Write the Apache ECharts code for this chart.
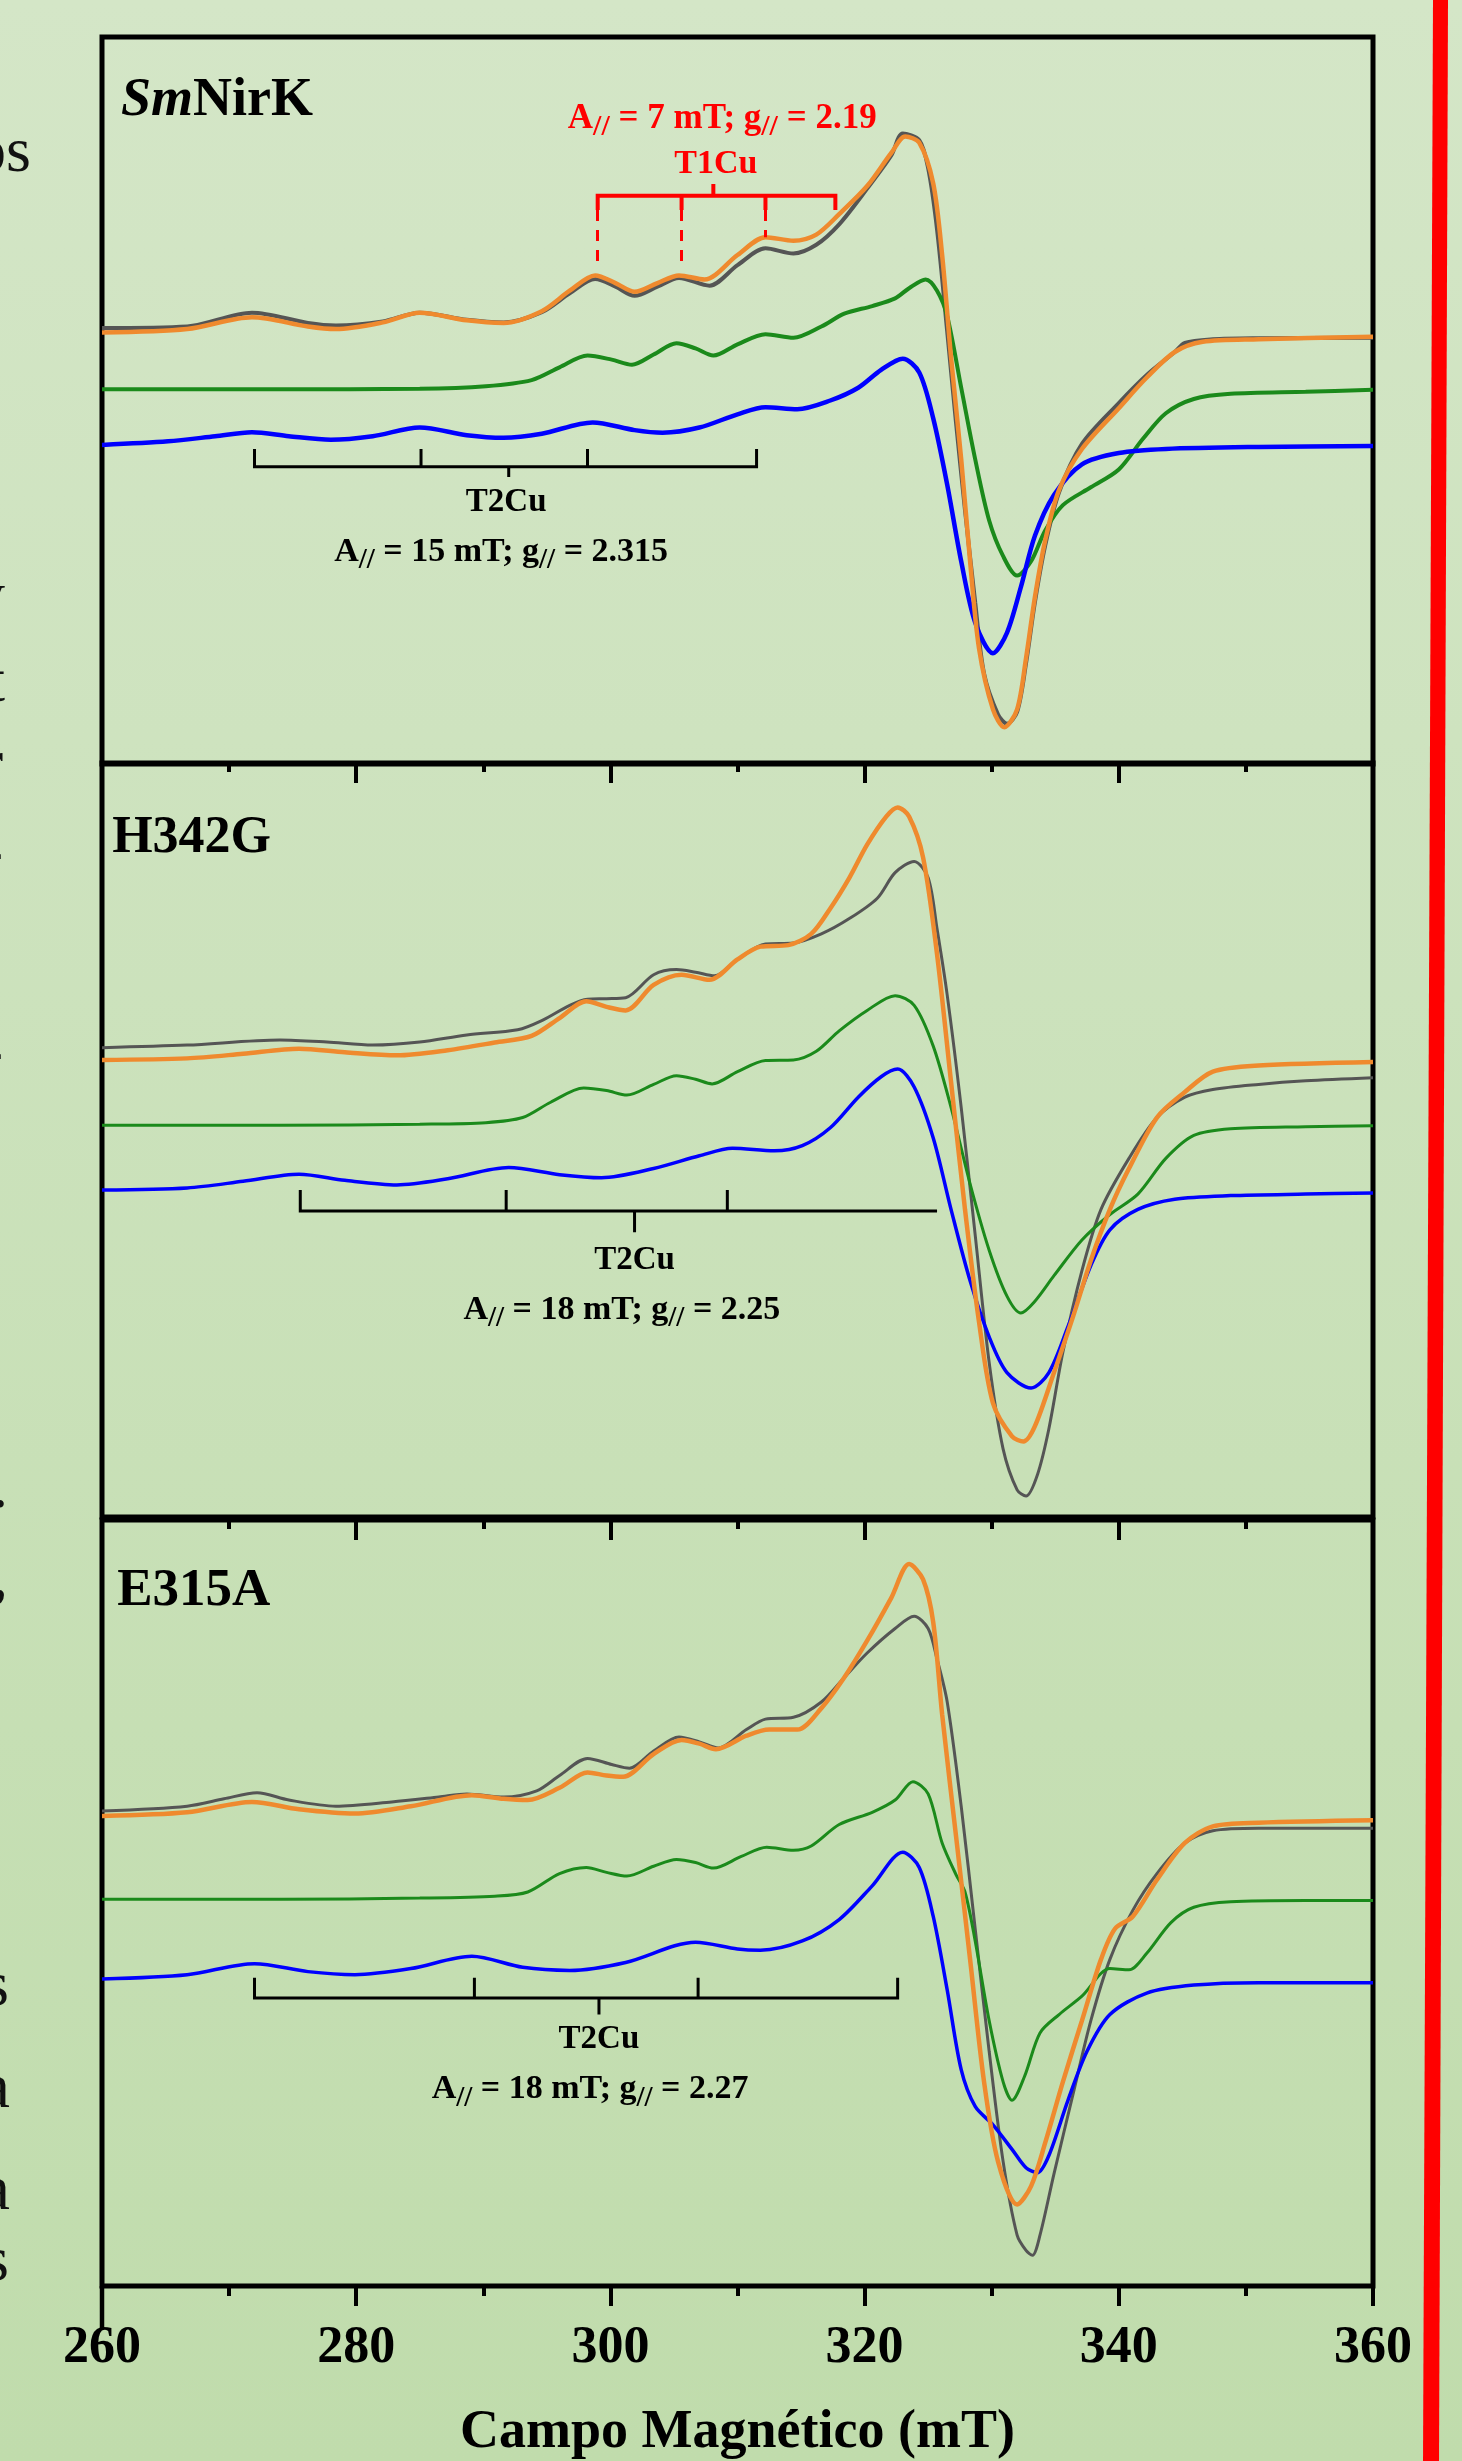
<!DOCTYPE html>
<html>
<head>
<meta charset="utf-8">
<title>EPR SmNirK</title>
<script src="https://cdn.jsdelivr.net/npm/echarts@6/dist/echarts.min.js"></script>
<style>
  html, body { margin: 0; padding: 0; background: #cfe3c0; }
  #chart { width: 1462px; height: 2461px; }
</style>
</head>
<body>
<div id="chart"></div>
<script>
// campo magnético (mT) ticks
const fieldTicks = [260, 280, 300, 320, 340, 360];

// [mT, intensidad (u.a.)] -- SmNirK
const smnirkExp = [[260.0,854],[266.7,857],[271.8,884],[276.2,864],[278.4,859],[282.1,867],[285.0,884],[288.7,870],[291.6,865],[294.6,885],[296.8,922],[298.8,950],[300.4,935],[301.9,917],[303.7,935],[305.4,952],[307.8,937],[310.0,977],[312.2,1010],[314.4,1000],[316.2,1017],[318.0,1057],[320.2,1127],[322.1,1192],[323.0,1235],[324.3,1222],[325.0,1167],[325.7,1047],[326.5,847],[327.2,667],[327.9,497],[328.7,317],[329.4,177],[330.5,97],[331.2,79],[332.0,102],[332.7,197],[333.4,317],[334.2,427],[335.3,532],[337.1,627],[340.0,707],[342.2,762],[344.4,807],[345.2,825],[347.4,832],[351.0,834],[360.0,835]];
const smnirkSim = [[260.0,845],[266.7,852],[271.8,875],[276.2,857],[278.4,852],[282.1,865],[285.0,884],[288.7,869],[291.6,864],[294.6,887],[296.8,927],[298.8,957],[300.4,942],[301.9,925],[303.7,942],[305.4,957],[307.4,949],[310.0,997],[312.2,1032],[314.4,1025],[316.2,1037],[318.0,1077],[320.2,1132],[322.1,1197],[323.2,1229],[324.3,1217],[325.4,1137],[326.1,997],[326.8,797],[327.6,597],[328.3,397],[329.0,227],[330.1,107],[331.0,72],[332.0,107],[332.7,207],[333.4,327],[334.2,437],[335.3,537],[337.1,617],[340.0,697],[342.2,757],[344.4,807],[346.6,827],[351.0,832],[360.0,837]];
const smnirkT1 = [[260.0,734],[274.0,734],[285.0,735],[290.2,740],[293.8,752],[296.0,777],[298.2,800],[300.1,792],[301.7,782],[303.4,802],[305.2,824],[306.7,814],[308.1,800],[310.0,822],[312.2,842],[314.4,835],[316.6,857],[318.4,882],[320.6,897],[322.4,912],[323.5,932],[324.8,949],[325.7,927],[326.5,877],[327.6,737],[328.7,597],[329.8,477],[330.9,407],[332.0,369],[333.1,397],[334.2,457],[335.6,507],[337.8,542],[340.0,577],[341.9,637],[343.7,687],[345.9,715],[348.8,725],[354.7,729],[360.0,733]];
const smnirkT2 = [[260.0,625],[265.2,632],[268.9,642],[271.8,650],[274.7,642],[278.0,635],[281.3,642],[285.0,659],[288.7,644],[291.6,639],[294.6,647],[298.6,669],[301.9,654],[304.1,649],[307.0,659],[310.0,685],[312.2,699],[314.7,695],[317.3,712],[319.5,737],[321.3,772],[323.0,794],[324.3,767],[325.4,677],[326.5,547],[327.6,397],[328.7,277],[330.1,217],[331.2,257],[332.3,347],[333.4,447],[334.9,527],[337.1,587],[340.0,609],[343.7,617],[351.0,621],[360.0,623]];

// H342G
const h342gExp = [[260.0,920],[266.7,925],[274.0,935],[277.7,931],[281.3,925],[285.0,931],[288.7,945],[292.7,955],[294.6,973],[296.8,1003],[298.2,1015],[299.7,1016],[301.2,1018],[303.4,1063],[305.2,1073],[306.7,1068],[308.2,1061],[310.0,1093],[312.2,1123],[314.4,1125],[316.6,1143],[318.8,1173],[321.0,1213],[322.4,1263],[323.9,1285],[325.0,1253],[325.7,1153],[326.5,1023],[327.6,803],[328.7,553],[329.8,303],[330.9,133],[332.0,53],[332.7,41],[333.6,83],[334.5,173],[335.6,323],[337.1,483],[338.6,603],[340.8,703],[343.0,783],[345.2,823],[347.4,838],[351.0,848],[354.7,855],[360.0,861]];
const h342gSim = [[260.0,896],[266.7,899],[271.1,908],[275.5,918],[279.1,911],[283.2,905],[287.2,915],[290.9,930],[293.8,943],[296.0,978],[298.1,1011],[299.7,1000],[301.2,993],[303.4,1043],[305.6,1063],[307.8,1053],[310.0,1093],[311.8,1118],[314.0,1121],[315.8,1143],[317.3,1193],[318.8,1253],[320.2,1318],[321.7,1373],[322.6,1391],[323.5,1373],[324.6,1293],[325.7,1103],[326.8,853],[327.9,603],[329.0,383],[330.1,223],[331.6,158],[332.5,148],[333.4,178],[334.9,283],[336.4,393],[337.8,503],[339.3,603],[340.8,683],[343.0,783],[345.2,833],[347.4,873],[351.0,885],[360.0,892]];
const h342gT1 = [[260.0,768],[274.0,768],[285.0,770],[290.2,773],[293.1,783],[295.3,813],[297.9,841],[299.7,836],[301.3,827],[303.4,848],[305.2,865],[306.7,858],[308.0,849],[310.0,873],[312.2,895],[314.4,896],[316.2,913],[318.0,953],[320.2,993],[322.4,1022],[323.9,1003],[325.4,923],[326.8,803],[328.3,653],[329.8,523],[331.2,433],[332.3,400],[333.4,423],[334.9,473],[337.1,543],[339.3,593],[341.5,633],[343.7,703],[345.9,748],[348.8,761],[354.7,765],[360.0,767]];
const h342gT2 = [[260.0,641],[266.7,645],[271.1,658],[275.5,672],[279.1,660],[283.2,651],[287.2,663],[292.0,685],[296.0,671],[299.3,665],[303.4,683],[307.0,708],[309.6,723],[312.9,718],[315.1,728],[317.3,763],[319.5,823],[321.3,863],[322.6,878],[323.9,843],[325.4,743],[326.8,603],[328.3,463],[329.8,353],[331.2,283],[333.1,253],[334.5,283],[336.0,373],[337.8,493],[339.3,563],[341.5,603],[344.4,623],[348.8,630],[354.7,633],[360.0,635]];

// E315A
const e315aExp = [[260.0,775],[266.7,783],[269.6,795],[272.2,805],[274.7,793],[278.4,783],[282.8,790],[286.5,798],[288.7,803],[291.6,798],[294.2,808],[296.0,833],[298.2,861],[300.1,851],[301.5,845],[303.4,873],[305.4,896],[307.0,888],[308.5,878],[310.7,908],[312.2,925],[314.4,928],[316.6,953],[318.4,993],[320.2,1033],[322.4,1073],[323.9,1093],[325.0,1073],[325.7,1023],[326.5,953],[327.6,783],[328.7,583],[329.8,383],[330.9,203],[332.0,83],[332.7,58],[333.2,50],[333.8,83],[334.9,183],[336.4,313],[337.8,433],[339.3,533],[341.1,613],[343.0,673],[345.2,723],[347.4,743],[351.0,747],[360.0,747]];
const e315aSim = [[260.0,767],[266.7,773],[271.8,790],[275.5,778],[279.9,771],[284.3,783],[289.1,801],[291.6,795],[293.5,793],[296.0,813],[298.2,838],[299.7,833],[301.0,831],[303.4,868],[305.6,891],[307.0,885],[308.3,876],[310.7,898],[312.5,908],[314.7,908],[316.6,943],[318.4,993],[320.2,1053],[322.1,1123],[323.5,1178],[324.6,1153],[325.4,1083],[326.1,933],[327.2,733],[328.3,533],[329.4,333],[330.5,203],[332.0,133],[333.1,163],[334.2,233],[335.6,333],[337.1,433],[338.6,533],[339.7,583],[341.1,603],[343.0,663],[345.2,723],[347.4,750],[351.0,756],[360.0,760]];
const e315aT1 = [[260.0,631],[274.0,631],[285.0,633],[290.9,636],[293.5,643],[296.0,673],[298.1,683],[299.7,675],[301.3,669],[303.4,685],[305.2,696],[306.7,691],[308.1,682],[310.3,701],[312.3,716],[314.4,711],[315.8,718],[318.0,753],[320.6,773],[322.4,793],[323.8,823],[325.0,803],[326.1,723],[327.2,671],[327.9,643],[328.7,563],[329.8,433],[330.9,333],[331.6,303],[332.6,343],[333.8,413],[335.3,443],[337.1,473],[339.3,518],[340.8,516],[342.2,543],[344.1,593],[345.9,618],[348.8,627],[354.7,629],[360.0,629]];
const e315aT2 = [[260.0,501],[266.7,508],[272.0,526],[276.2,513],[279.9,508],[284.3,518],[289.1,538],[293.1,520],[296.8,515],[301.2,528],[306.7,561],[310.0,550],[311.8,548],[315.1,563],[318.0,598],[320.6,653],[323.0,708],[324.3,683],[325.4,603],[326.5,483],[327.6,353],[328.7,293],[330.1,263],[331.6,223],[332.7,193],[333.6,185],[334.5,213],[336.0,303],[337.5,383],[339.3,443],[342.2,478],[345.9,491],[351.0,495],[360.0,495]];

// hyperfine line positions (mT)
const smT1Lines = [299.0, 305.6, 312.2, 317.7];
const smT2Lines = [272.0, 285.1, 298.2, 311.5];
const h342gT2Lines = [275.6, 291.8, 309.2, 325.7];
const e315aT2Lines = [272.0, 289.3, 306.9, 322.6];

const SERIF = '"Liberation Serif", "Times New Roman", serif';
const C_EXP = '#555555', C_SIM = '#ef8a2e', C_T1 = '#1b8a1b', C_T2 = '#0000ff';
const yMax = [1424, 1478, 1250];
const xIdx = [0, 1, 3];

const chart = echarts.init(document.getElementById('chart'));

function curve(g, data, color, width, z) {
  return { type: 'line', xAxisIndex: xIdx[g], yAxisIndex: g, data: data, smooth: 0.3,
    symbol: 'none', silent: true, z: z, lineStyle: { color: color, width: width } };
}

function bracketPath(lines, yLine, yTick, cx, yCenter, noTick) {
  const marks = lines.map((x, i) => ({ x: x, y: noTick && noTick[i] ? null : yTick }))
    .concat([{ x: cx, y: yCenter }]).sort((a, b) => a.x - b.x);
  const pts = [];
  marks.forEach(m => {
    pts.push([m.x, yLine]);
    if (m.y !== null) { pts.push([m.x, m.y]); pts.push([m.x, yLine]); }
  });
  return pts;
}

function bracket(g, pts, color, width, extra) {
  return Object.assign({ type: 'line', xAxisIndex: xIdx[g], yAxisIndex: g, data: pts, smooth: false,
    symbol: 'none', silent: true, z: 6, lineStyle: { color: color, width: width, cap: 'butt', join: 'miter' } }, extra || {});
}

const grids = [
  { top: 37, height: 727 },
  { top: 763, height: 754 },
  { top: 1520, height: 766 }
].map(p => ({ left: 102, right: 89, top: p.top, height: p.height, show: true,
  borderColor: '#000', borderWidth: 5, backgroundColor: 'transparent', outerBoundsMode: 'none' }));

const tickStyle = { color: '#000', width: 4 };
function topAxis(g) {
  return { type: 'value', gridIndex: g, position: 'top', min: fieldTicks[0], max: fieldTicks[fieldTicks.length - 1], interval: 20,
    axisLine: { show: false, onZero: false }, splitLine: { show: false }, axisLabel: { show: false },
    axisTick: { show: true, inside: true, length: 20, lineStyle: tickStyle },
    minorTick: { show: true, splitNumber: 2, length: 9, lineStyle: tickStyle } };
}

const option = {
  animation: false,
  grid: grids,
  xAxis: [
    { type: 'value', gridIndex: 0, min: 260, max: 360, interval: 20, axisLine: { show: false, onZero: false },
      axisTick: { show: false }, axisLabel: { show: false }, splitLine: { show: false } },
    topAxis(1),
    topAxis(2),
    { type: 'value', gridIndex: 2, position: 'bottom', min: fieldTicks[0], max: fieldTicks[fieldTicks.length - 1], interval: 20,
      axisLine: { show: false, onZero: false }, splitLine: { show: false },
      axisTick: { show: true, inside: false, length: 20, lineStyle: tickStyle },
      minorTick: { show: true, splitNumber: 2, length: 10, lineStyle: tickStyle },
      axisLabel: { show: true, margin: 63, verticalAlign: 'middle', fontFamily: SERIF, fontWeight: 'bold', fontSize: 52, color: '#000' },
      name: 'Campo Magnético (mT)', nameLocation: 'middle', nameGap: 147,
      nameTextStyle: { fontFamily: SERIF, fontWeight: 'bold', fontSize: 54, color: '#000', verticalAlign: 'middle' } }
  ],
  yAxis: yMax.map((m, g) => ({ type: 'value', gridIndex: g, min: 0, max: m, show: false })),
  series: [
    curve(0, smnirkExp, C_EXP, 4, 2), curve(0, smnirkSim, C_SIM, 4.5, 3),
    curve(0, smnirkT1, C_T1, 4, 2), curve(0, smnirkT2, C_T2, 4.5, 2),
    curve(1, h342gExp, C_EXP, 3, 2), curve(1, h342gSim, C_SIM, 4.5, 3),
    curve(1, h342gT1, C_T1, 3, 2), curve(1, h342gT2, C_T2, 3.5, 2),
    curve(2, e315aExp, C_EXP, 3, 2), curve(2, e315aSim, C_SIM, 4.5, 3),
    curve(2, e315aT1, C_T1, 3, 2), curve(2, e315aT2, C_T2, 3.5, 2),
    bracket(0, bracketPath(smT1Lines, 1113, 1085, 308.1, 1136), '#ff0000', 4, {
      markLine: { silent: true, symbol: 'none', label: { show: false },
        lineStyle: { color: '#ff0000', width: 3, type: [11, 9] },
        data: [
          [{ coord: [smT1Lines[0], 1085] }, { coord: [smT1Lines[0], 968] }],
          [{ coord: [smT1Lines[1], 1085] }, { coord: [smT1Lines[1], 968] }],
          [{ coord: [smT1Lines[2], 1085] }, { coord: [smT1Lines[2], 1032] }]
        ] } }),
    bracket(0, bracketPath(smT2Lines, 582, 617, 292.0, 562), '#000', 3),
    bracket(1, bracketPath(h342gT2Lines, 600, 641, 301.9, 558, [false, false, false, true]), '#000', 3),
    bracket(2, bracketPath(e315aT2Lines, 470, 503, 299.1, 443), '#000', 3)
  ]
};

chart.setOption(option);

// annotations placed through the axes
function px(g, at) { return chart.convertToPixel({ gridIndex: g }, at); }

function plain(g, at, text, size, color, align) {
  const p = px(g, at);
  return { type: 'text', x: p[0], y: p[1], silent: true, z: 10,
    style: { text: text, fontFamily: SERIF, fontWeight: 'bold', fontSize: size, fill: color || '#000',
      align: align || 'center', verticalAlign: 'middle' } };
}

// "A// = ...; g// = ..." with the // lowered to sit across the baseline
function withSub(g, at, parts, size, color) {
  const lh = Math.round(size * 1.25);
  const sub = Math.round(size * 0.85);
  const pad = Math.max(0, Math.round(lh / 2 + 0.34 * size - sub / 2 - 8));
  const p = px(g, at);
  const base = { fontFamily: SERIF, fontWeight: 'bold', fill: color, color: color };
  return { type: 'text', x: p[0], y: p[1] - lh / 2, silent: true, z: 10,
    style: { text: '{a|A}{s|//}{a| = ' + parts[0] + '; g}{s|//}{a| = ' + parts[1] + '}',
      align: 'center', verticalAlign: 'top',
      rich: {
        a: Object.assign({ fontSize: size, lineHeight: lh, verticalAlign: 'top' }, base),
        s: Object.assign({ fontSize: sub, lineHeight: sub, padding: [pad, 0, 0, 0], verticalAlign: 'top' }, base)
      } } };
}

const lowerLeft = px(2, [260, 0]);
const graphics = [
  { type: 'rect', z: -100, silent: true, shape: { x: 0, y: 0, width: 1462, height: 2461 },
    style: { fill: new echarts.graphic.LinearGradient(0, 0, 0, 1, [
      { offset: 0, color: '#d4e6c7' }, { offset: 1, color: '#c0dcac' }]) } },
  { type: 'polygon', z: 1, silent: true, shape: { points: [[1433, 0], [1448, 0], [1439, 2461], [1423, 2461]] },
    style: { fill: '#ff0000' } },
  { type: 'line', z: 5, silent: true, shape: { x1: lowerLeft[0], y1: lowerLeft[1], x2: lowerLeft[0], y2: lowerLeft[1] + 44 },
    style: { stroke: '#000', lineWidth: 4.5 } },
  {
    type: 'text', silent: true, z: 10,
    x: px(0, [261.5, 1299])[0], y: px(0, [261.5, 1299])[1],
    style: { text: '{i|Sm}{b|NirK}', align: 'left', verticalAlign: 'middle',
      rich: { i: { fontFamily: SERIF, fontWeight: 'bold', fontStyle: 'italic', fontSize: 54, fill: '#000' },
              b: { fontFamily: SERIF, fontWeight: 'bold', fontSize: 54, fill: '#000' } } }
  },
  withSub(0, [308.8, 1255], ['7 mT', '2.19'], 35, '#ff0000'),
  plain(0, [308.3, 1175], 'T1Cu', 34, '#ff0000'),
  plain(0, [291.8, 512], 'T2Cu', 33),
  withSub(0, [291.4, 406], ['15 mT', '2.315'], 34, '#000'),
  plain(1, [260.8, 1330], 'H342G', 52, '#000', 'left'),
  plain(1, [301.9, 503], 'T2Cu', 33),
  withSub(1, [300.9, 396], ['18 mT', '2.25'], 34, '#000'),
  plain(2, [261.2, 1133], 'E315A', 53, '#000', 'left'),
  plain(2, [299.1, 402], 'T2Cu', 33),
  withSub(2, [298.4, 313], ['18 mT', '2.27'], 34, '#000')
];

// slide text cut off at the left edge
[['os', 31, 154], ['y', 5, 598], ['t', 5, 684], ['r', 3, 766], ['-', 3, 855], ['-', 3, 1055],
 ['.', 8, 1490], [',', 8, 1580], ['s', 9, 1988], ['a', 10, 2090], ['a', 10, 2192], ['s', 9, 2263]]
  .forEach(f => graphics.push({ type: 'text', silent: true, z: 10, x: f[1], y: f[2],
    style: { text: f[0], fontFamily: SERIF, fontSize: 64, fill: '#111', align: 'right', verticalAlign: 'middle' } }));

chart.setOption({ graphic: graphics });
</script>
</body>
</html>
